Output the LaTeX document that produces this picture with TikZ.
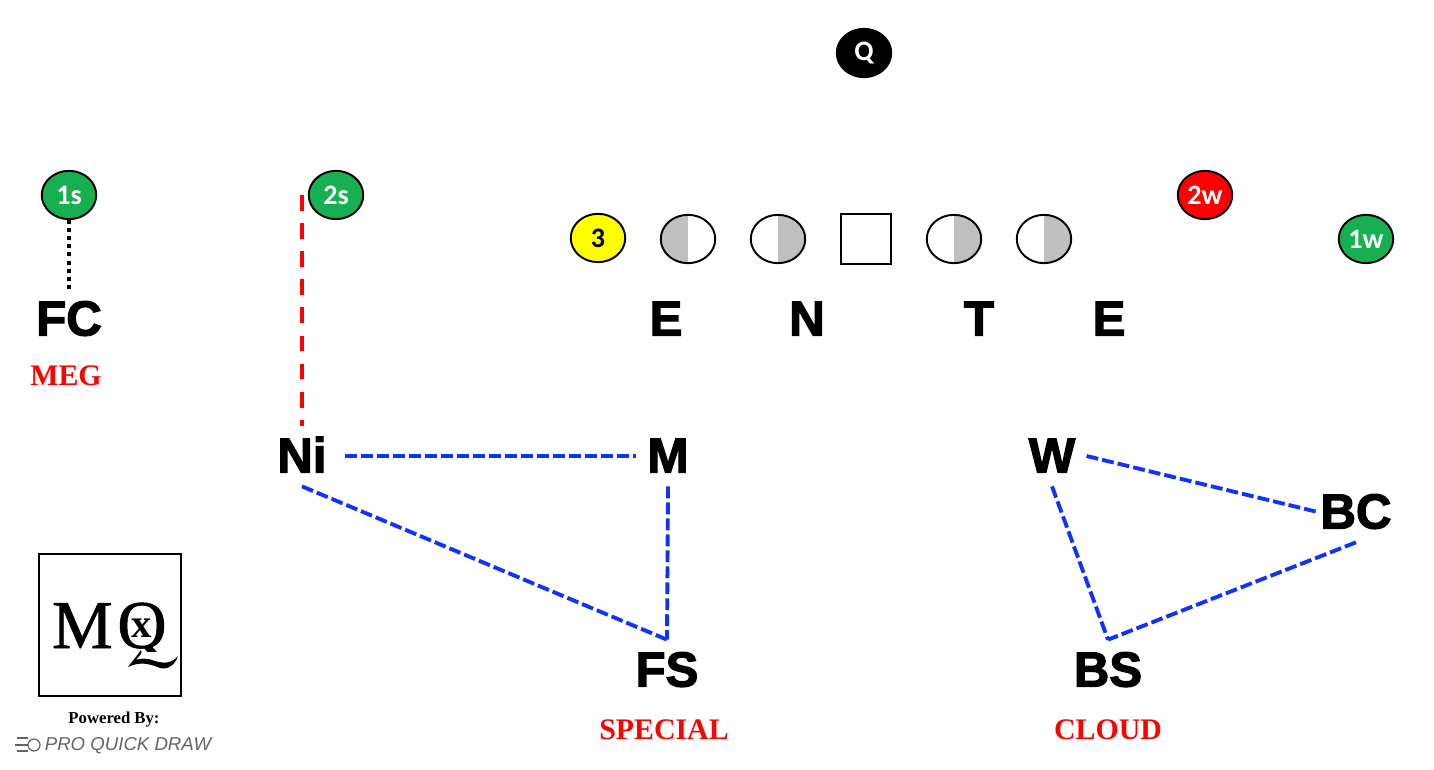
\documentclass[tikz,border=0pt]{standalone}
\usepackage{fontspec}
\usepackage{xcolor}
\usetikzlibrary{shapes.geometric}
\setmainfont{Liberation Serif}
\newfontfamily\posfont[FakeBold=2.5]{Liberation Sans Bold}
\newfontfamily\tagfont{Carlito Bold}
\newfontfamily\brandfont{Liberation Sans}
\newfontfamily\logofont[FakeBold=0.8]{Liberation Serif}
\definecolor{colGreen}{RGB}{22,176,80}
\definecolor{colRed}{RGB}{255,0,0}
\definecolor{colYellow}{RGB}{255,255,0}
\definecolor{colBlue}{RGB}{15,50,255}
\definecolor{colHalf}{RGB}{191,191,191}
\definecolor{colBrand}{RGB}{100,100,100}
\tikzset{
    player/.style={ellipse, draw=black, line width=1.1pt, minimum width=31pt, minimum height=27.5pt, inner sep=0pt, font=\tagfont\fontsize{16}{16}\selectfont},
    halfleft/.style={player, path picture={\fill[colHalf] (path picture bounding box.south west) rectangle (path picture bounding box.north);}},
    halfright/.style={player, path picture={\fill[colHalf] (path picture bounding box.south) rectangle (path picture bounding box.north east);}},
    defender/.style={inner xsep=0.22cm, inner ysep=0pt, text height=0.93cm, text depth=0.27cm, font=\posfont\fontsize{28}{28}\selectfont},
    calltag/.style={text=colRed, inner sep=0pt, font=\bfseries\fontsize{17}{17}\selectfont},
    zone/.style={colBlue, line width=2.2pt, dash pattern=on 6.8pt off 2.3pt},
}
\begin{document}
\begin{tikzpicture}[x=0.02cm, y=-0.02cm]

\useasboundingbox (0,0) rectangle (1434,770);

% Offense
\node[player, fill=black, text=white] (Q) at (864,53) {Q};
\node[player, fill=colGreen, text=white] (oneS) at (69,195) {1s};
\node[player, fill=colGreen, text=white] (twoS) at (336,195) {2s};
\node[player, fill=colRed, text=white] (twoW) at (1205,195) {2w};
\node[player, fill=colGreen, text=white] (oneW) at (1366,239) {1w};
\node[player, fill=colYellow] (three) at (598,238) {3};
\node[halfleft] (LT) at (688,239) {};
\node[halfright] (LG) at (778,239) {};
\node[draw=black, line width=1.1pt, minimum size=28pt, inner sep=0pt] (C) at (866,239) {};
\foreach \name/\x in {RG/954, RT/1044} {
    \node[halfright] (\name) at (\x,239) {};
}

% Defense
\foreach \name/\x/\y/\lab in {FC/69/319/FC, LE/666/319/E, NT/807/319/N, TK/979/319/T, RE/1109/319/E,
    M/668/456/M, W/1052/456/W, FS/667/670/FS, BS/1108/670/BS} {
    \node[defender] (\name) at (\x,\y) {\lab};
}
\node[defender, inner xsep=0.36cm] (Ni) at (302,456) {Ni};
\node[defender, inner xsep=0.05cm] (BC) at (1356,512) {BC};

% Coverage calls
\node[calltag] (meg) at (66,376) {MEG};
\node[calltag] (special) at (664,730) {SPECIAL};
\node[calltag] (cloud) at (1108,730) {CLOUD};

% Routes
\coordinate (twoSstem) at (302,195);
\draw[black, line width=2.2pt, dash pattern=on 2.3pt off 2.3pt] (oneS) -- (FC);
\draw[colRed, line width=2.2pt, dash pattern=on 9pt off 7pt] (twoSstem) -- (Ni.north);

% Zones
\draw[zone] (Ni.east) -- (M.west);
\draw[zone] (Ni.south) -- (FS.north);
\draw[zone] (M.south) -- (FS.north);
\draw[zone] (W.east) -- (BC.west);
\draw[zone] (W.south) -- (BS.north);
\draw[zone] (BC.south) -- (BS.north);

% Logo
\node[draw=black, line width=1.1pt, minimum size=80.5pt, inner sep=0pt] (logo) at (110,625) {};
\node[anchor=base, inner sep=0pt, font=\logofont\fontsize{39}{39}\selectfont] (logoM) at (82.5,648) {M};
\begin{scope}
    \clip (112,595) rectangle (175,651);
    \node[anchor=base, inner sep=0pt, font=\logofont\fontsize{39}{39}\selectfont] (logoQ) at (142,648) {Q};
\end{scope}
\node[anchor=base, inner sep=0pt, font=\bfseries\fontsize{23}{23}\selectfont] (logoX) at (142,637) {x};
\fill[black] (141,650) .. controls (136,657) and (131,663) .. (128,667) .. controls (140,661) and (150,664) .. (160,668)
    .. controls (168,670) and (175,665) .. (178,656) .. controls (172,663) and (165,664) .. (155,661)
    .. controls (148,658) and (140,658) .. (136,660) .. controls (139,656) and (143,653) .. (141,650);
\node[inner sep=0pt, font=\bfseries\fontsize{9.5}{9.5}\selectfont] (powered) at (114,720) {Powered By:};
\node[inner sep=0pt, text=colBrand, font=\brandfont\itshape\fontsize{10.6}{10.6}\selectfont] (brand) at (128,745.5) {PRO QUICK DRAW};
\draw[colBrand, line width=0.7pt] (34,745) circle (6);
\foreach \y/\xs in {738/17, 745/15, 751/17} {
    \draw[colBrand, line width=0.7pt] (\xs,\y) -- (28,\y);
}

\end{tikzpicture}
\end{document}
